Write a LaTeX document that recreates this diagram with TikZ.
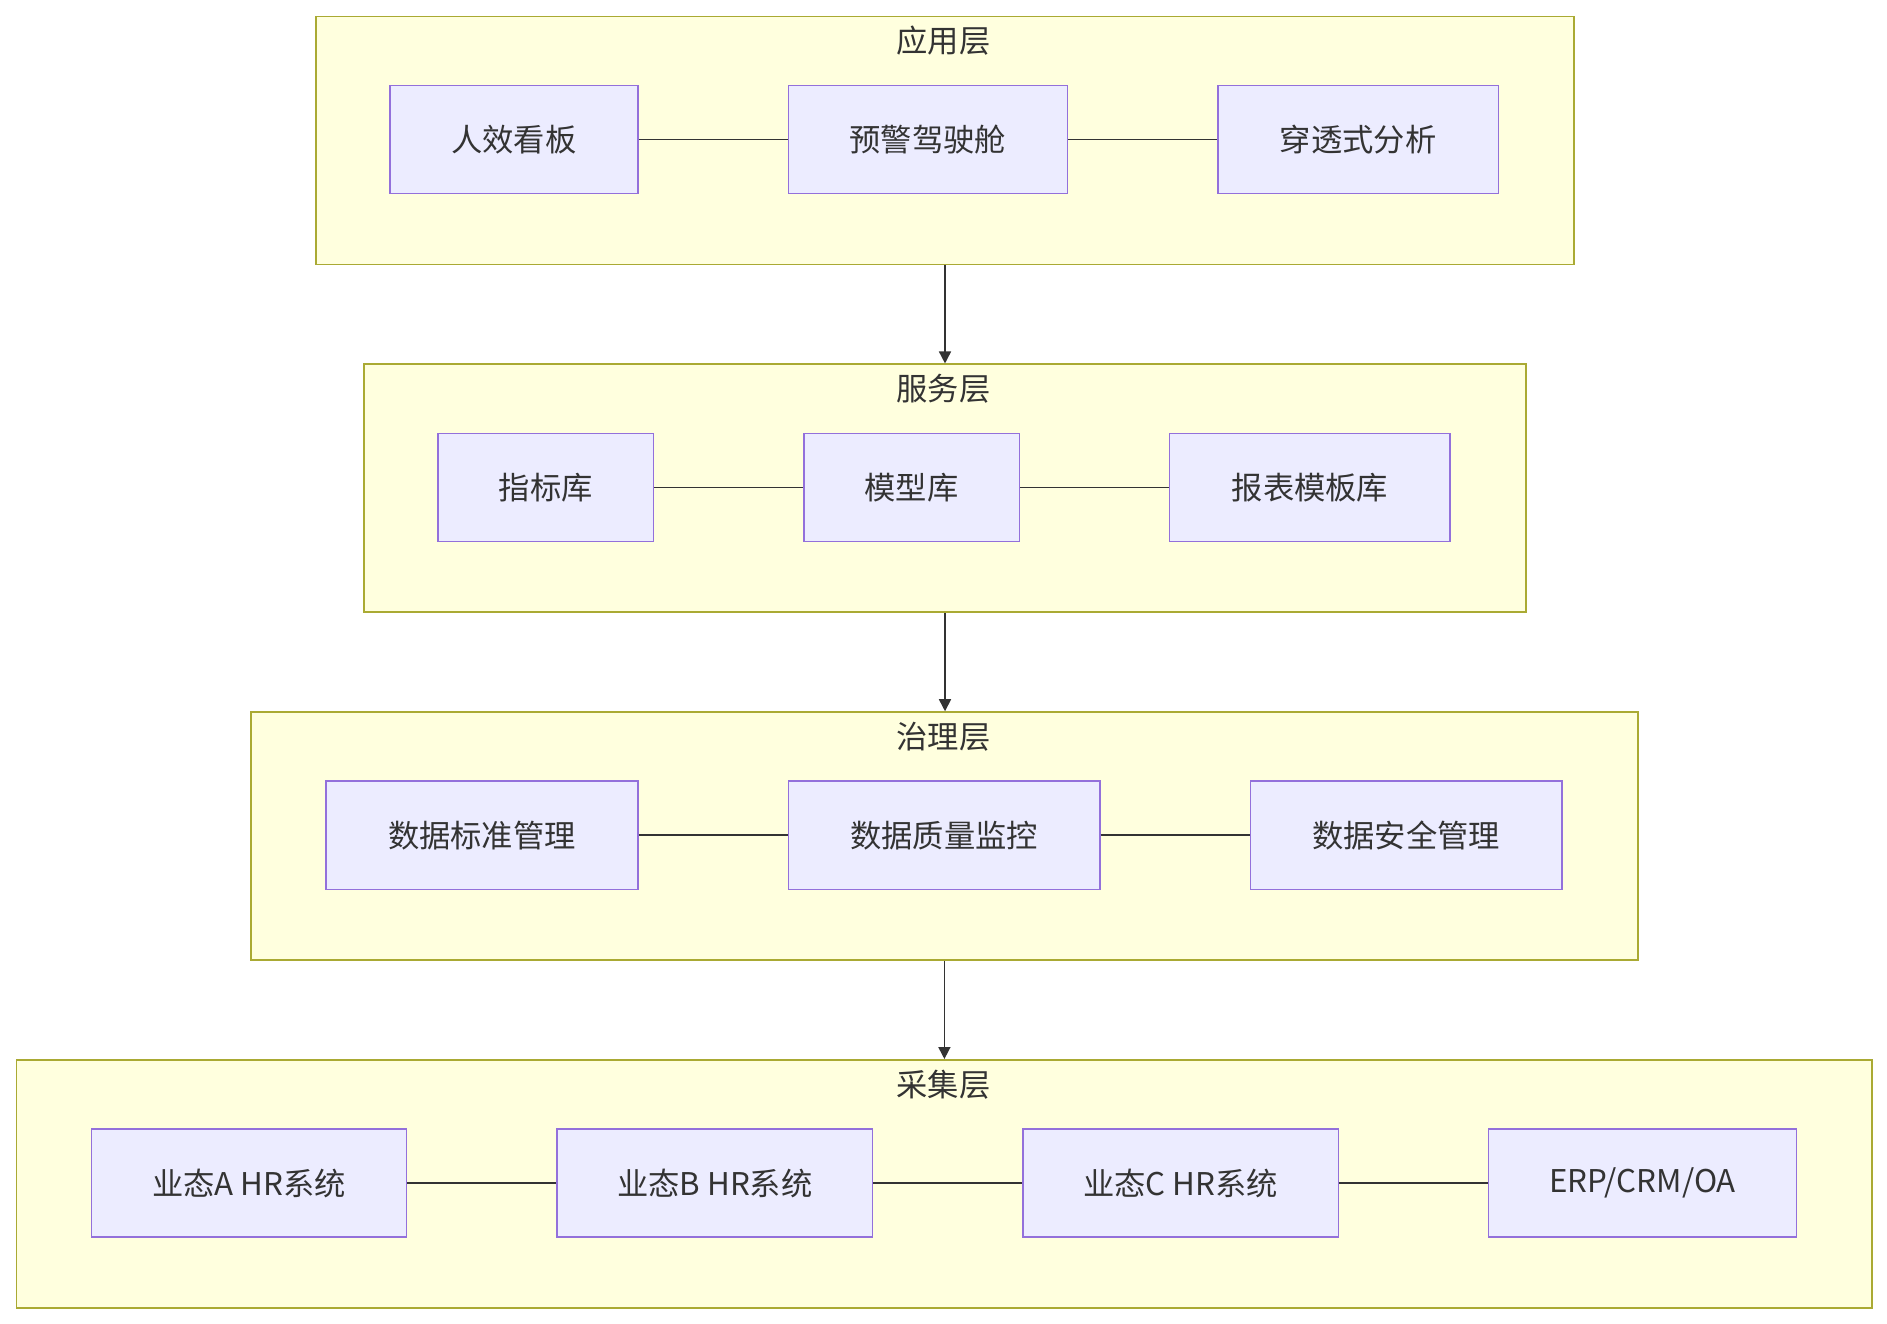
\documentclass[tikz,border=0pt]{standalone}
\usepackage{fontspec}
\setmainfont{Noto Sans CJK SC}
\usetikzlibrary{arrows.meta,positioning}
\definecolor{layerfill}{HTML}{FFFFDE}
\definecolor{layerline}{HTML}{AAAA33}
\definecolor{boxfill}{HTML}{ECECFF}
\definecolor{boxline}{HTML}{9370DB}
\definecolor{ink}{HTML}{333333}

\begin{document}
\begin{tikzpicture}[x=0.5pt, y=-0.5pt,
  layer/.style={draw=layerline, fill=layerfill, line width=0.75pt, inner sep=0pt, anchor=north west},
  item/.style={draw=boxline, fill=boxfill, line width=0.6pt, minimum height=45pt, text=ink, font=\fontsize{13}{15}\selectfont},
  title/.style={text=ink, font=\fontsize{13}{15}\selectfont},
  link/.style={draw=ink, line width=0.65pt},
  flow/.style={draw=ink, line width=0.65pt, -{Triangle[length=5pt,width=5pt]}}]
  \useasboundingbox (0,0) rectangle (1568,1100);

  % layer frames
  \node[layer, minimum width=522.5pt, minimum height=103pt] (app) at (262,13) {};
  \node[layer, minimum width=482.5pt, minimum height=103pt] (svc) at (302,302) {};
  \node[layer, minimum width=576pt, minimum height=103pt] (gov) at (208,591) {};
  \node[layer, minimum width=771pt, minimum height=103pt] (col) at (13,880) {};

  \node[title] (appT) at (784,34) {应用层};
  \node[title] (svcT) at (784,323) {服务层};
  \node[title] (govT) at (784,612) {治理层};
  \node[title] (colT) at (784,901) {采集层};

  % application layer
  \node[item, minimum width=103pt] (kanban) at (427,116) {人效看板};
  \node[item, minimum width=116pt] (cockpit) at (771,116) {预警驾驶舱};
  \node[item, minimum width=116.5pt] (drill) at (1128.5,116) {穿透式分析};
  \draw[link] (kanban) -- (cockpit);
  \draw[link] (cockpit) -- (drill);

  % service layer
  \node[item, minimum width=89.5pt] (metric) at (453.5,405) {指标库};
  \node[item, minimum width=89.5pt] (model) at (757.5,405) {模型库};
  \node[item, minimum width=116.5pt] (report) at (1088.5,405) {报表模板库};
  \draw[link] (metric) -- (model);
  \draw[link] (model) -- (report);

  % governance layer
  \node[item, minimum width=129.5pt] (std) at (400.5,694) {数据标准管理};
  \node[item, minimum width=129.5pt] (quality) at (784.5,694) {数据质量监控};
  \node[item, minimum width=129.5pt] (secure) at (1168.5,694) {数据安全管理};
  \draw[link] (std) -- (quality);
  \draw[link] (quality) -- (secure);

  % collection layer
  \node[item, minimum width=131pt] (hrA) at (207,983) {业态A HR系统};
  \node[item, minimum width=131pt] (hrB) at (594,983) {业态B HR系统};
  \node[item, minimum width=131pt] (hrC) at (981,983) {业态C HR系统};
  \node[item, minimum width=128pt] (erp) at (1365,983) {ERP/CRM/OA};
  \draw[link] (hrA) -- (hrB);
  \draw[link] (hrB) -- (hrC);
  \draw[link] (hrC) -- (erp);

  % layer flow
  \draw[flow] (app.south) -- (app.south |- svc.north);
  \draw[flow] (svc.south) -- (svc.south |- gov.north);
  \draw[flow] (gov.south) -- (gov.south |- col.north);
\end{tikzpicture}
\end{document}
